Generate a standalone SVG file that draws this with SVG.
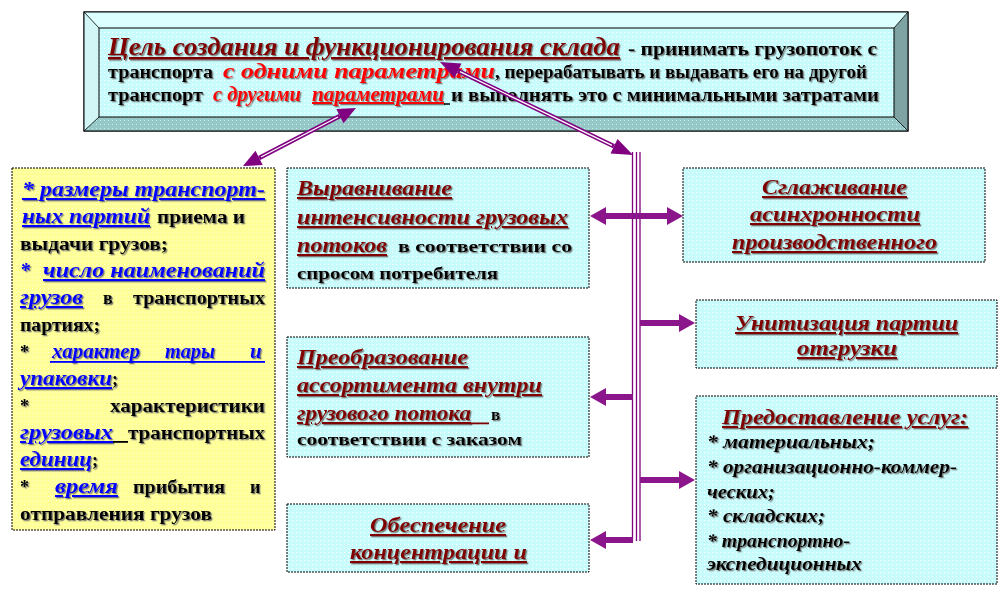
<svg xmlns="http://www.w3.org/2000/svg" width="1000" height="598" viewBox="0 0 1000 598">
<defs>
<pattern id="cy" width="4" height="4" patternUnits="userSpaceOnUse"><rect width="4" height="4" fill="#c8fcfc"/><rect width="1" height="1" fill="#ffffff"/></pattern>
<pattern id="cyd" width="4" height="4" patternUnits="userSpaceOnUse"><rect width="4" height="4" fill="#96c8c8"/><rect width="1" height="1" fill="#c8eeee"/></pattern>
<pattern id="yl" width="4" height="4" patternUnits="userSpaceOnUse"><rect width="4" height="4" fill="#ffff99"/><rect width="1" height="1" fill="#ffffcc"/></pattern>
<filter id="sh" x="-5%" y="-20%" width="110%" height="140%"><feDropShadow dx="1.3" dy="1.3" stdDeviation="0" flood-color="#666666" flood-opacity="0.85"/></filter>
</defs>
<style>
text{font-family:"Liberation Serif","Times New Roman",serif;font-weight:bold;filter:url(#sh)}
.box{fill:url(#cy);stroke:#000;stroke-width:1;stroke-dasharray:2 1}
.ybox{fill:url(#yl);stroke:#000;stroke-width:1;stroke-dasharray:2 1}
.hd{fill:#800000;font-style:italic;text-decoration:underline}
.rd{fill:#ff0000;font-style:italic}
.u{text-decoration:underline}
.bl{fill:#0000ff;font-style:italic}
.bk{fill:#000}
.bi{fill:#000;font-style:italic}
.vl{stroke:#800080;stroke-width:1.3;fill:none}
.dl{stroke:#800080;stroke-width:4.5;fill:none}
.dw{stroke:#ffffff;stroke-width:1.3;fill:none}
.ah{fill:#800080}
.tk{fill:#8b168b}
</style>
<rect width="1000" height="598" fill="#ffffff"/>

<g id="top-goal">
<rect x="84" y="12" width="824" height="119" fill="url(#cy)" stroke="#000" stroke-width="1"/>
<polygon points="84,12 908,12 894,28 99,28" fill="#dcffff"/>
<polygon points="84,12 99,28 99,117 84,131" fill="#d2f6f6"/>
<polygon points="84,131 99,117 894,117 908,131" fill="url(#cyd)"/>
<polygon points="908,12 908,131 894,117 894,28" fill="#7fa2a2"/>
<rect x="84" y="12" width="824" height="119" fill="none" stroke="#000" stroke-width="1"/>
<rect x="99" y="28" width="795" height="89" fill="url(#cy)" stroke="#000" stroke-width="1"/>
<line x1="84" y1="12" x2="99" y2="28" stroke="#000" stroke-width="0.8"/>
<line x1="908" y1="12" x2="894" y2="28" stroke="#000" stroke-width="0.8"/>
<line x1="84" y1="131" x2="99" y2="117" stroke="#000" stroke-width="0.8"/>
<line x1="908" y1="131" x2="894" y2="117" stroke="#000" stroke-width="0.8"/>
<text x="108" y="55" font-size="25" class="hd" textLength="512" lengthAdjust="spacingAndGlyphs">Цель создания и функционирования склада</text>
<text x="628" y="55" font-size="18" class="bk" textLength="249" lengthAdjust="spacingAndGlyphs">- принимать грузопоток с</text>
<text x="108" y="78" font-size="18" class="bk" textLength="105" lengthAdjust="spacingAndGlyphs">транспорта</text>
<text x="223" y="78" font-size="20" class="rd" textLength="272" lengthAdjust="spacingAndGlyphs">с одними параметрами</text>
<text x="495" y="78" font-size="18" class="bk" textLength="372" lengthAdjust="spacingAndGlyphs">, перерабатывать и выдавать его на другой</text>
<text x="108" y="101" font-size="18" class="bk" textLength="95" lengthAdjust="spacingAndGlyphs">транспорт</text>
<text x="213" y="101" font-size="20" class="rd" textLength="88" lengthAdjust="spacingAndGlyphs">с другими</text>
<text x="312" y="101" font-size="20" class="rd u" textLength="132" lengthAdjust="spacingAndGlyphs">параметрами</text>
<line x1="444" y1="104" x2="450" y2="104" stroke="#000" stroke-width="1.5"/>
<text x="451" y="101" font-size="18" class="bk" textLength="428" lengthAdjust="spacingAndGlyphs">и выполнять это с минимальными затратами</text>
</g>

<g id="box-params">
<rect x="12" y="168" width="263" height="362" class="ybox"/>
<text x="22" y="196" font-size="21" class="bl u" textLength="243" lengthAdjust="spacingAndGlyphs">* размеры транспорт-</text>
<text x="22" y="223" font-size="21" class="bl u" textLength="128" lengthAdjust="spacingAndGlyphs">ных партий</text>
<text x="157" y="223" font-size="18" class="bk" textLength="88" lengthAdjust="spacingAndGlyphs">приема и</text>
<text x="20" y="250" font-size="18" class="bk" textLength="148" lengthAdjust="spacingAndGlyphs">выдачи грузов;</text>
<text x="20" y="277" font-size="20" class="bl">*</text>
<text x="43" y="277" font-size="21" class="bl u" textLength="222" lengthAdjust="spacingAndGlyphs">число  наименований</text>
<text x="20" y="304" font-size="21" class="bl u" textLength="63" lengthAdjust="spacingAndGlyphs">грузов</text>
<text x="103" y="304" font-size="18" class="bk">в</text>
<text x="133" y="304" font-size="18" class="bk" textLength="132" lengthAdjust="spacingAndGlyphs">транспортных</text>
<text x="20" y="331" font-size="18" class="bk" textLength="80" lengthAdjust="spacingAndGlyphs">партиях;</text>
<text x="20" y="358" font-size="18" class="bk">*</text>
<text x="52" y="358" font-size="21" class="bl" textLength="88" lengthAdjust="spacingAndGlyphs">характер</text>
<text x="165" y="358" font-size="21" class="bl" textLength="50" lengthAdjust="spacingAndGlyphs">тары</text>
<text x="250" y="358" font-size="21" class="bl">и</text>
<rect x="50" y="361" width="215" height="1.8" fill="#0000ff"/>
<text x="20" y="385" font-size="21" class="bl u" textLength="92" lengthAdjust="spacingAndGlyphs">упаковки</text>
<text x="112" y="385" font-size="18" class="bk">;</text>
<text x="20" y="412" font-size="18" class="bk">*</text>
<text x="110" y="412" font-size="18" class="bk" textLength="155" lengthAdjust="spacingAndGlyphs">характеристики</text>
<text x="20" y="439" font-size="21" class="bl u" textLength="93" lengthAdjust="spacingAndGlyphs">грузовых</text>
<rect x="113" y="441" width="15" height="1.8" fill="#000"/>
<text x="128" y="439" font-size="18" class="bk" textLength="137" lengthAdjust="spacingAndGlyphs">транспортных</text>
<text x="20" y="466" font-size="21" class="bl u" textLength="72" lengthAdjust="spacingAndGlyphs">единиц</text>
<text x="92" y="466" font-size="18" class="bk">;</text>
<text x="20" y="493" font-size="18" class="bk">*</text>
<text x="55" y="493" font-size="21" class="bl u" textLength="63" lengthAdjust="spacingAndGlyphs">время</text>
<text x="133" y="493" font-size="18" class="bk" textLength="92" lengthAdjust="spacingAndGlyphs">прибытия</text>
<text x="250" y="493" font-size="18" class="bk">и</text>
<text x="20" y="520" font-size="18" class="bk" textLength="192" lengthAdjust="spacingAndGlyphs">отправления  грузов</text>
</g>

<g id="box-leveling">
<rect x="287" y="168" width="302" height="120" class="box"/>
<text x="297" y="195" font-size="21" class="hd" textLength="155" lengthAdjust="spacingAndGlyphs">Выравнивание</text>
<text x="297" y="224" font-size="21" class="hd" textLength="271" lengthAdjust="spacingAndGlyphs">интенсивности  грузовых</text>
<text x="297" y="252" font-size="21" class="hd" textLength="90" lengthAdjust="spacingAndGlyphs">потоков</text>
<text x="398" y="252" font-size="17" class="bk" textLength="174" lengthAdjust="spacingAndGlyphs">в соответствии  со</text>
<text x="297" y="279" font-size="17" class="bk" textLength="201" lengthAdjust="spacingAndGlyphs">спросом потребителя</text>
</g>

<g id="box-transform">
<rect x="287" y="337" width="302" height="120" class="box"/>
<text x="297" y="364" font-size="21" class="hd" textLength="171" lengthAdjust="spacingAndGlyphs">Преобразование</text>
<text x="297" y="392" font-size="21" class="hd" textLength="245" lengthAdjust="spacingAndGlyphs">ассортимента  внутри</text>
<text x="297" y="420" font-size="21" class="hd" textLength="174" lengthAdjust="spacingAndGlyphs">грузового потока</text>
<rect x="470" y="422.5" width="19" height="1.8" fill="#800000"/>
<text x="491" y="420" font-size="17" class="bk">в</text>
<text x="297" y="445" font-size="16" class="bk" textLength="225" lengthAdjust="spacingAndGlyphs">соответствии  с заказом</text>
</g>

<g id="box-concentration">
<rect x="287" y="504" width="302" height="68" class="box"/>
<text x="370" y="532" font-size="21" class="hd" textLength="136" lengthAdjust="spacingAndGlyphs">Обеспечение</text>
<text x="350" y="559" font-size="21" class="hd" textLength="177" lengthAdjust="spacingAndGlyphs">концентрации  и</text>
</g>

<g id="box-smoothing">
<rect x="683" y="168" width="302" height="94" class="box"/>
<text x="762" y="194" font-size="21" class="hd" textLength="145" lengthAdjust="spacingAndGlyphs">Сглаживание</text>
<text x="750" y="221" font-size="21" class="hd" textLength="170" lengthAdjust="spacingAndGlyphs">асинхронности</text>
<text x="732" y="249" font-size="21" class="hd" textLength="205" lengthAdjust="spacingAndGlyphs">производственного</text>
</g>

<g id="box-unitization">
<rect x="696" y="300" width="301" height="68" class="box"/>
<text x="735" y="330" font-size="21" class="hd" textLength="223" lengthAdjust="spacingAndGlyphs">Унитизация  партии</text>
<text x="797" y="355" font-size="21" class="hd" textLength="100" lengthAdjust="spacingAndGlyphs">отгрузки</text>
</g>

<g id="box-services">
<rect x="696" y="396" width="301" height="188" class="box"/>
<text x="722" y="424" font-size="21" class="hd" textLength="246" lengthAdjust="spacingAndGlyphs">Предоставление услуг:</text>
<text x="707" y="448" font-size="19" class="bi" textLength="168" lengthAdjust="spacingAndGlyphs">*  материальных;</text>
<text x="707" y="473" font-size="19" class="bi" textLength="250" lengthAdjust="spacingAndGlyphs">* организационно-коммер-</text>
<text x="707" y="498" font-size="19" class="bi" textLength="68" lengthAdjust="spacingAndGlyphs">ческих;</text>
<text x="707" y="522" font-size="19" class="bi" textLength="118" lengthAdjust="spacingAndGlyphs">* складских;</text>
<text x="707" y="547" font-size="19" class="bi" textLength="143" lengthAdjust="spacingAndGlyphs">* транспортно-</text>
<text x="707" y="570" font-size="19" class="bi" textLength="155" lengthAdjust="spacingAndGlyphs">экспедиционных</text>
</g>

<g id="connectors">
<line x1="632.5" y1="152" x2="632.5" y2="541" class="vl"/>
<line x1="636.5" y1="152" x2="636.5" y2="541" class="vl"/>
<line x1="640" y1="152" x2="640" y2="541" class="vl"/>
<path d="M458,70.7 L614,146.3" class="dl"/>
<path d="M460,71.6 L612,145.4" class="dw"/>
<polygon points="440,62 461.5,63.5 454.5,77.9" class="ah"/>
<polygon points="633,155 617.5,139.1 610.5,153.5" class="ah"/>
<path d="M259.1,157.95 L339.9,116.05" class="dl"/>
<path d="M261,157 L338,117" class="dw"/>
<polygon points="356,108 343.5,123.2 336.3,108.9" class="ah"/>
<polygon points="243,166 255.5,150.8 262.7,165.1" class="ah"/>
<polygon points="590,216 606,207 606,213 667,213 667,207 683,216 667,225 667,219 606,219 606,225" class="tk"/>
<polygon points="640,320 679,320 679,314 695,323 679,332 679,326 640,326" class="tk"/>
<polygon points="633,394 606,394 606,388 590,397 606,406 606,400 633,400" class="tk"/>
<polygon points="640,477 679,477 679,471 695,480 679,489 679,483 640,483" class="tk"/>
<polygon points="633,537 606,537 606,531 590,540 606,549 606,543 633,543" class="tk"/>
</g>
</svg>
